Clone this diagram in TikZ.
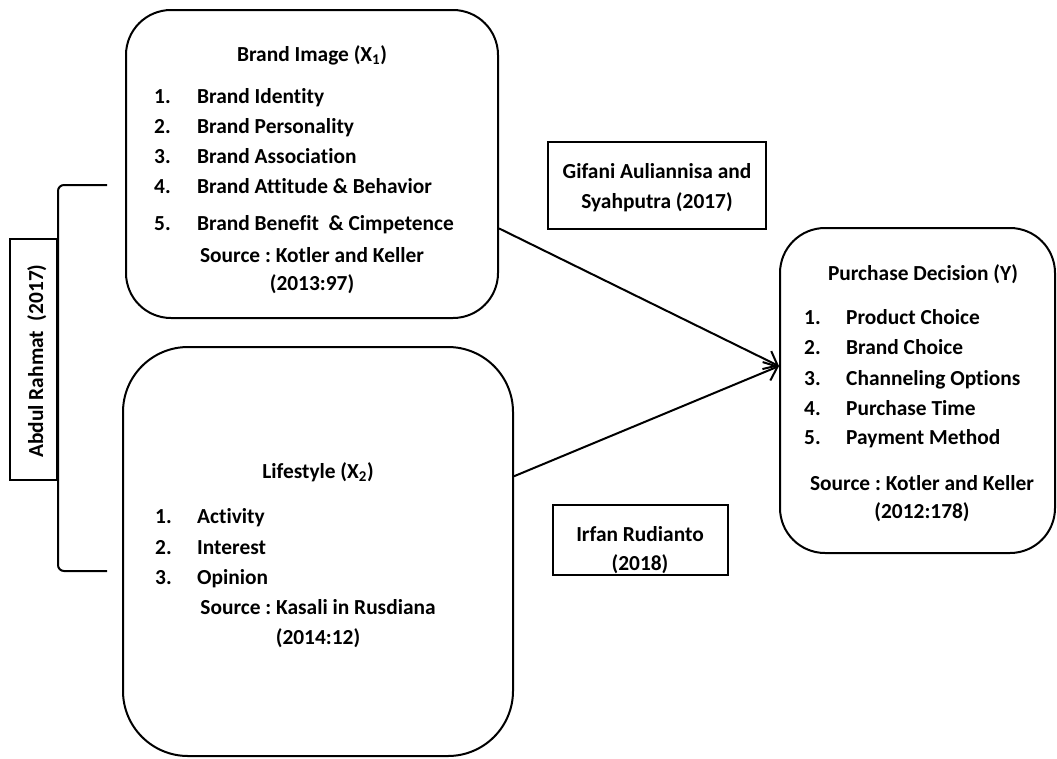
\documentclass[tikz,border=0pt]{standalone}
\usepackage{fontspec}
\setmainfont{Carlito}[Ligatures=NoCommon]
\usetikzlibrary{arrows.meta}
\frenchspacing
\tikzset{
  ln/.style={line width=2pt, draw=black},
  rbox/.style={ln, rounded corners=#1, inner sep=0pt},
  sbox/.style={ln, inner sep=0pt},
  txt/.style={font=\fontsize{21.4}{25}\selectfont\bfseries, inner sep=0pt, anchor=base west},
  ctxt/.style={txt, anchor=base},
  arr/.style={ln, -{Straight Barb[length=12pt,width=20pt,line width=2pt]}}
}
\begin{document}
\begin{tikzpicture}[x=1pt,y=-1pt]
\useasboundingbox (0,0) rectangle (1057,758);
% boxes
\node[rbox=45pt, minimum width=372pt, minimum height=308pt] (bi) at (312,164) {};
\node[rbox=65pt, minimum width=390pt, minimum height=409pt] (ls) at (318,551.5) {};
\node[rbox=45pt, minimum width=275pt, minimum height=325pt] (pd) at (917.5,390.5) {};
\node[sbox, minimum width=218pt, minimum height=87pt] (gf) at (657,185.5) {};
\node[sbox, minimum width=175pt, minimum height=70pt] (ir) at (640.5,540) {};
\node[sbox, minimum width=47pt, minimum height=241pt] (ab) at (33.5,359.5) {};
% Brand image text
\node[ctxt] (bit) at (312,61) {Brand Image (X\textsubscript{1})};
\node[txt] (bin1) at (154,103) {1.};
\node[txt] (bii1) at (197,103) {Brand Identity};
\node[txt] (bin2) at (154,133) {2.};
\node[txt] (bii2) at (197,133) {Brand Personality};
\node[txt] (bin3) at (154,163) {3.};
\node[txt] (bii3) at (197,163) {Brand Association};
\node[txt] (bin4) at (154,193) {4.};
\node[txt] (bii4) at (197,193) {Brand Attitude \& Behavior};
\node[txt] (bin5) at (154,230) {5.};
\node[txt] (bii5) at (197,230) {Brand Benefit ~\& Cimpetence};
\node[ctxt] (bis1) at (312,262) {Source : Kotler and Keller};
\node[ctxt] (bis2) at (312,290) {(2013:97)};
% Lifestyle text
\node[ctxt] (lst) at (318,478) {Lifestyle (X\textsubscript{2})};
\node[txt] (lsn1) at (155,523) {1.};
\node[txt] (lsi1) at (197,523) {Activity};
\node[txt] (lsn2) at (155,554) {2.};
\node[txt] (lsi2) at (197,554) {Interest};
\node[txt] (lsn3) at (155,584) {3.};
\node[txt] (lsi3) at (197,584) {Opinion};
\node[ctxt] (lss1) at (318,614) {Source : Kasali in Rusdiana};
\node[ctxt] (lss2) at (318,644) {(2014:12)};
% Purchase decision text
\node[ctxt] (pdt) at (923,280) {Purchase Decision (Y)};
\node[txt] (pdn1) at (804,324) {1.};
\node[txt] (pdi1) at (846,324) {Product Choice};
\node[txt] (pdn2) at (804,354) {2.};
\node[txt] (pdi2) at (846,354) {Brand Choice};
\node[txt] (pdn3) at (804,385) {3.};
\node[txt] (pdi3) at (846,385) {Channeling Options};
\node[txt] (pdn4) at (804,415) {4.};
\node[txt] (pdi4) at (846,415) {Purchase Time};
\node[txt] (pdn5) at (804,444) {5.};
\node[txt] (pdi5) at (846,444) {Payment Method};
\node[ctxt] (pds1) at (922,490) {Source : Kotler and Keller};
\node[ctxt] (pds2) at (922,518) {(2012:178)};
% small boxes text
\node[ctxt] (gf1) at (657,178) {Gifani Auliannisa and};
\node[ctxt] (gf2) at (657,208) {Syahputra (2017)};
\node[ctxt] (ir1) at (640,541) {Irfan Rudianto};
\node[ctxt] (ir2) at (640,570) {(2018)};
\node[ctxt, rotate=90] (abt) at (43,361) {Abdul Rahmat ~(2017)};
% bracket
\coordinate (bt) at (107,185);
\coordinate (bb) at (107,571);
\draw[ln, rounded corners=6pt] (bt) -- (bt -| ab.east) -- (bb -| ab.east) -- (bb);
% arrows
\draw[arr] (bi.-19.3) -- (pd.170.4);
\draw[arr] (ls.21.4) -- (pd.170.4);
\end{tikzpicture}
\end{document}
